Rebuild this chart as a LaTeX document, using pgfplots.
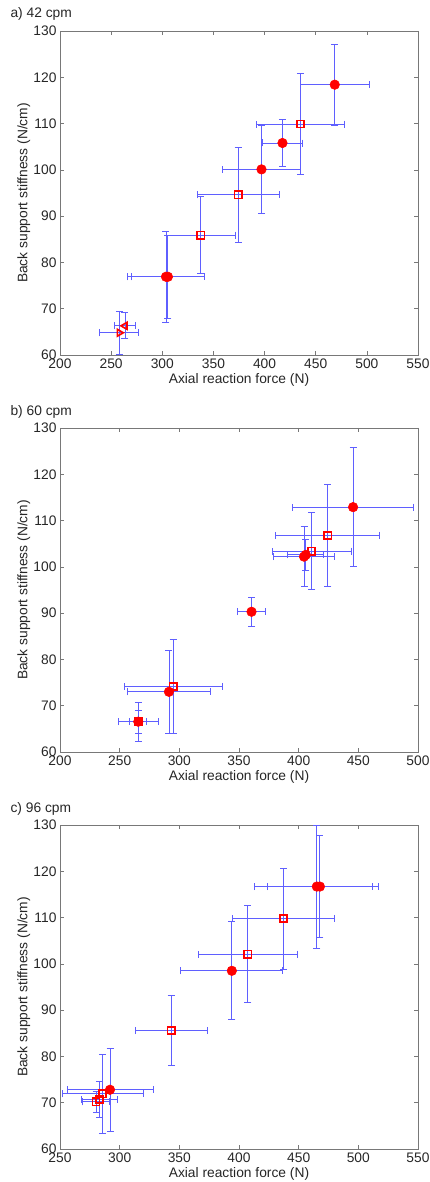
\documentclass[border=0pt]{standalone}
\usepackage{fontspec}
\setmainfont{Liberation Sans}
\usepackage{pgfplots}
\usepackage{pgfplotstable}
\pgfplotsset{compat=1.18}
\definecolor{ebc}{RGB}{95,95,255}
\definecolor{mk}{RGB}{255,0,0}
\definecolor{frame}{RGB}{120,120,120}

% panel a) 42 cpm
\pgfplotstableread{
x y ex ey
468.6 118.4 34 8.8
417.5 105.8 19.5 5.0
397.0 100.1 38 9.5
303.6 76.9 38 9.8
305.5 76.9 36 9.0
}\circA
\pgfplotstableread{
x y ex ey
435.1 109.9 43 10.9
374.2 94.6 40 10.3
337.7 85.9 34 8.3
}\squareA
\pgfplotstableread{
x y ex ey
258.0 64.8 19 4.7
}\triRA
\pgfplotstableread{
x y ex ey
263.5 66.3 10.3 2.8
}\triLA

% panel b) 60 cpm
\pgfplotstableread{
x y ex ey
445.6 112.9 51 12.9
404.5 102.2 25.5 6.5
406.0 102.6 15 3.4
360.5 90.3 12 3.1
291.3 73.0 35 9.0
265.6 66.55 7 2.5
}\circB
\pgfplotstableread{
x y ex ey
424.4 106.8 43.7 11.1
410.9 103.4 33 8.3
294.9 74.2 41 10.2
265.6 66.55 17 4.2
}\squareB

% panel c) 96 cpm
\pgfplotstableread{
x y ex ey
465.2 116.7 52 13.3
467.8 116.7 44 11.1
394.0 98.5 42.7 10.6
291.9 72.8 36 9.0
}\circC
\pgfplotstableread{
x y ex ey
437.3 109.8 43 10.9
407.4 102.1 41.5 10.5
343.2 85.6 30.3 7.6
285.8 71.9 34 8.5
282.9 70.7 15 3.9
280.2 70.2 11 2.3
}\squareC

\pgfplotsset{
  panel/.style={
    scale only axis, width=358pt, height=324pt, anchor=south west,
    ymin=60, ymax=130, ytick={60,70,...,130},
    font=\fontsize{13.8}{16}\selectfont,
    /pgf/number format/assume math mode=true,
    axis line style={frame}, tick style={frame, line width=0.5pt},
    ticklabel style={text=black!85},
    xlabel={Axial reaction force (N)},
    ylabel={Back support stiffness (N/cm)},
    xlabel style={at={(axis description cs:0.5,-0.077)}, anchor=center, text=black!85},
    ylabel style={at={(axis description cs:-0.101,0.5)}, anchor=center, text=black!85},
    clip=true,
  },
  ebars/.style={
    ebc, line width=0.9pt,
    error bars/.cd, x dir=both, x explicit, y dir=both, y explicit,
    error bar style={draw=ebc, line width=0.9pt},
    error mark options={rotate=90, draw=ebc, line width=0.9pt, mark size=3.5pt},
  },
  circ/.style={only marks, mark=*, mark size=4.8pt, mark options={draw=mk, fill=mk, line width=0.5pt}},
  sq/.style={only marks, mark=square, mark size=3.6pt, mark options={draw=mk, fill=none, line width=1.7pt}},
  tri/.style={only marks, mark=triangle, mark size=4pt, mark options={draw=mk, fill=none, line width=1.6pt, rotate=#1}},
}

\begin{document}
\begin{tikzpicture}[x=1pt, y=1pt]
\path[use as bounding box] (0,0) rectangle (430,1182);

\node[anchor=base west, font=\fontsize{13.8}{16}\selectfont, text=black!85] at (7,1164) {a) 42 cpm};
\begin{axis}[panel, at={(60pt,827pt)}, xmin=200, xmax=550, xtick={200,250,...,550}]
\addplot[sq, ebars] table[x=x, y=y, x error=ex, y error=ey] {\squareA};
\addplot[tri=-90, ebars] table[x=x, y=y, x error=ex, y error=ey] {\triRA};
\addplot[tri=90, ebars] table[x=x, y=y, x error=ex, y error=ey] {\triLA};
\addplot[circ, ebars] table[x=x, y=y, x error=ex, y error=ey] {\circA};
\end{axis}

\node[anchor=base west, font=\fontsize{13.8}{16}\selectfont, text=black!85] at (7,766) {b) 60 cpm};
\begin{axis}[panel, at={(60pt,430pt)}, xmin=200, xmax=500, xtick={200,250,...,500}]
\addplot[sq, ebars] table[x=x, y=y, x error=ex, y error=ey] {\squareB};
\addplot[circ, ebars] table[x=x, y=y, x error=ex, y error=ey] {\circB};
\end{axis}

\node[anchor=base west, font=\fontsize{13.8}{16}\selectfont, text=black!85] at (7,369.5) {c) 96 cpm};
\begin{axis}[panel, at={(60pt,33pt)}, xmin=250, xmax=550, xtick={250,300,...,550}]
\addplot[sq, ebars] table[x=x, y=y, x error=ex, y error=ey] {\squareC};
\addplot[circ, ebars] table[x=x, y=y, x error=ex, y error=ey] {\circC};
\end{axis}
\end{tikzpicture}
\end{document}
